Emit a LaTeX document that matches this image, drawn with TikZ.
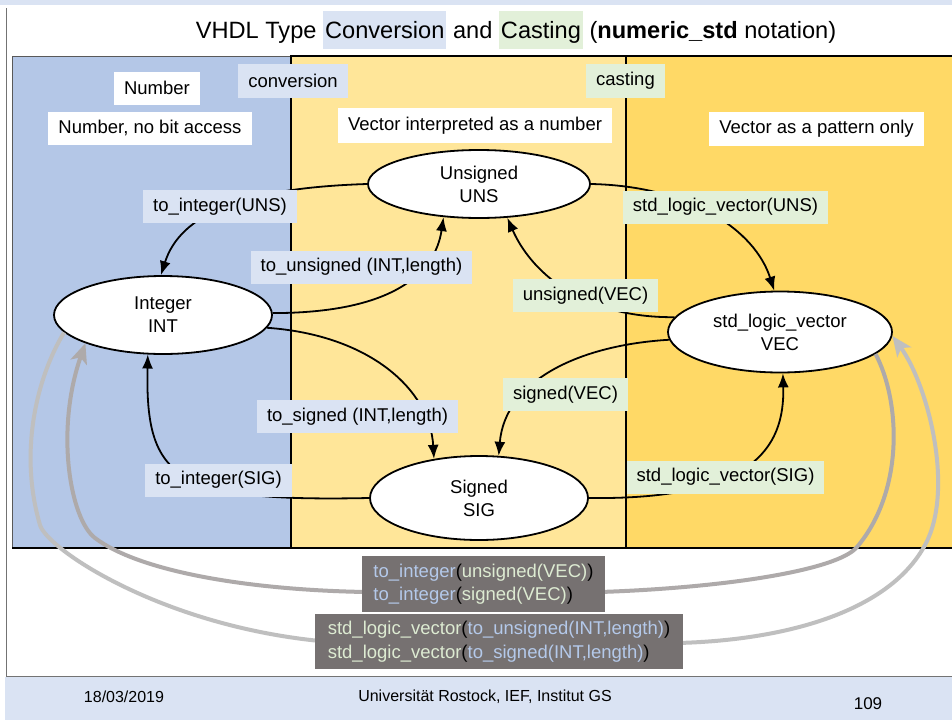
\documentclass[tikz,border=0pt]{standalone}
\usepackage{fontspec}
\setmainfont{Liberation Sans}
\usetikzlibrary{shapes.geometric,arrows.meta}
\definecolor{framebg}{HTML}{DAE3F3}
\definecolor{regblue}{HTML}{B4C7E7}
\definecolor{regyA}{HTML}{FFE699}
\definecolor{regyB}{HTML}{FFD966}
\definecolor{labblue}{HTML}{DAE3F3}
\definecolor{labgreen}{HTML}{E2F0D9}
\definecolor{darkbg}{HTML}{767171}
\definecolor{grayA}{HTML}{AEAAAA}
\definecolor{grayB}{HTML}{BFBFBF}
\definecolor{txtblue}{HTML}{B4C9EA}
\definecolor{txtgreen}{HTML}{DDEBD2}
\newcommand{\hlbox}[2]{{\setlength{\fboxsep}{2pt}\colorbox{#1}{\rule[-8.5pt]{0pt}{34pt}#2}}}
\begin{document}
\begin{tikzpicture}[x=1pt,y=-1pt,
  lab/.style={font=\fontsize{18.5}{22}\selectfont, inner xsep=10pt, inner ysep=0pt, minimum height=33pt},
  lblue/.style={lab, fill=labblue},
  lgreen/.style={lab, fill=labgreen},
  lwhite/.style={lab, fill=white},
  state/.style={ellipse, draw=black, line width=1.8pt, fill=white, align=center, inner sep=0pt, font=\fontsize{18.5}{23}\selectfont},
  conn/.style={line width=1.8pt, -{Latex[length=14pt,width=11pt]}},
  bigarrow/.style={line width=4pt, -{Stealth[length=20pt,width=17pt,inset=5pt]}},
  darkbox/.style={fill=darkbg, align=left, inner sep=0pt, font=\fontsize{18.5}{23.5}\selectfont},
  foot/.style={font=\fontsize{16}{18}\selectfont, inner sep=0pt},
]
\useasboundingbox (0,0) rectangle (952,720);
% frame
\fill[white] (0,0) rectangle (952,720);
\fill[framebg] (0,0) rectangle (952,5);
\fill[framebg] (5,677) rectangle (952,720);
\draw[color=black!55, line width=1.2pt] (6.5,8) -- (6.5,676.5) -- (952,676.5);
% regions
\fill[regblue] (12,56) rectangle (291,548);
\fill[regyA] (291,56) rectangle (626,548);
\fill[regyB] (626,56) rectangle (952,548);
\draw[line width=1pt, color=black!65] (12,548) -- (12,56) -- (291,56);
\draw[line width=1.8pt] (12,548) -- (952,548);
\draw[line width=1.8pt] (291,548) -- (291,56) -- (952,56);
\draw[line width=1.8pt] (626,56) -- (626,548);
% states
\node[state, minimum width=222pt, minimum height=68pt] (uns) at (479,184) {Unsigned\\UNS};
\node[state, minimum width=218pt, minimum height=78pt] (int) at (163,315) {Integer\\INT};
\node[state, minimum width=224pt, minimum height=81pt] (vec) at (780,332) {std\_logic\_vector\\VEC};
\node[state, minimum width=218pt, minimum height=84pt] (sig) at (479,498) {Signed\\SIG};
% black connectors
\draw[conn] (uns.180) .. controls (240,188) and (180,215) .. (int.93);
\draw[conn] (int.1) .. controls (390,313) and (435,275) .. (uns.223);
\draw[conn] (vec.172) .. controls (580,318) and (530,270) .. (uns.-50);
\draw[conn] (uns.east) .. controls (690,186) and (755,230) .. (vec.98);
\draw[conn] (int.-7) .. controls (370,335) and (430,390) .. (sig.139);
\draw[conn] (vec.184) .. controls (580,345) and (505,380) .. (sig.65);
\draw[conn] (sig.west) .. controls (175,502) and (145,480) .. (int.-111);
\draw[conn] (sig.east) .. controls (750,500) and (785,450) .. (vec.-86);
% gray composite arrows
\draw[bigarrow, grayA] (vec.-13) .. controls (900,400) and (905,490) .. (857,547)
  .. controls (837,571) and (720,588) .. (600,592)
  .. controls (480,594) and (420,594) .. (366,592)
  .. controls (250,590) and (140,572) .. (95,538)
  .. controls (70,519) and (55,430) .. (int.200);
\draw[bigarrow, grayB] (int.190) .. controls (38,375) and (18,450) .. (40,525)
  .. controls (47,549) and (160,625) .. (320,641)
  .. controls (440,645) and (560,645) .. (678,643)
  .. controls (790,640) and (890,610) .. (925,545)
  .. controls (955,490) and (928,385) .. (vec.-2);
% region labels
\node[lwhite] (numlbl) at (157,88) {Number};
\node[lwhite] (numdesc) at (150,128) {Number, no bit access};
\node[lblue, minimum height=34pt] (convlbl) at (293,81) {conversion};
\node[lgreen, minimum height=34pt] (castlbl) at (625.5,81) {casting};
\node[lwhite, minimum height=35pt] (vecnum) at (475,125.5) {Vector interpreted as a number};
\node[lwhite, minimum height=34pt] (vecpat) at (816.5,129) {Vector as a pattern only};
% connector labels
\node[lblue] (l1) at (220,206.5) {to\_integer(UNS)};
\node[lblue] (l2) at (361.5,267) {to\_unsigned (INT,length)};
\node[lgreen] (l3) at (585.5,295.5) {unsigned(VEC)};
\node[lgreen] (l4) at (725.5,207) {std\_logic\_vector(UNS)};
\node[lgreen] (l5) at (565.5,394.5) {signed(VEC)};
\node[lblue] (l6) at (357.5,416.5) {to\_signed (INT,length)};
\node[lblue] (l7) at (218.5,480) {to\_integer(SIG)};
\node[lgreen] (l8) at (725.5,477) {std\_logic\_vector(SIG)};
% dark boxes
\node[darkbox, minimum width=243pt, minimum height=56pt] (dk1) at (483.5,584)
  {\textcolor{txtblue}{to\_integer}(\textcolor{txtgreen}{unsigned(VEC)})\\
   \textcolor{txtblue}{to\_integer}(\textcolor{txtgreen}{signed(VEC)})};
\node[darkbox, minimum width=368pt, minimum height=55pt] (dk2) at (499,641.5)
  {\textcolor{txtgreen}{std\_logic\_vector}(\textcolor{txtblue}{to\_unsigned(INT,length)})\\
   \textcolor{txtgreen}{std\_logic\_vector}(\textcolor{txtblue}{to\_signed(INT,length)})};
% title
\node[anchor=base, inner sep=0pt, font=\fontsize{23.6}{28}\selectfont] (title) at (516,38.5)
  {VHDL Type \hlbox{labblue}{Conversion} and \hlbox{labgreen}{Casting} (\textbf{numeric\_std} notation)};
% footer
\node[foot] (date) at (124,697) {18/03/2019};
\node[foot] (inst) at (485,697) {Universität Rostock, IEF, Institut GS};
\node[foot, font=\fontsize{17}{19}\selectfont] (page) at (868,704) {109};
\end{tikzpicture}
\end{document}
